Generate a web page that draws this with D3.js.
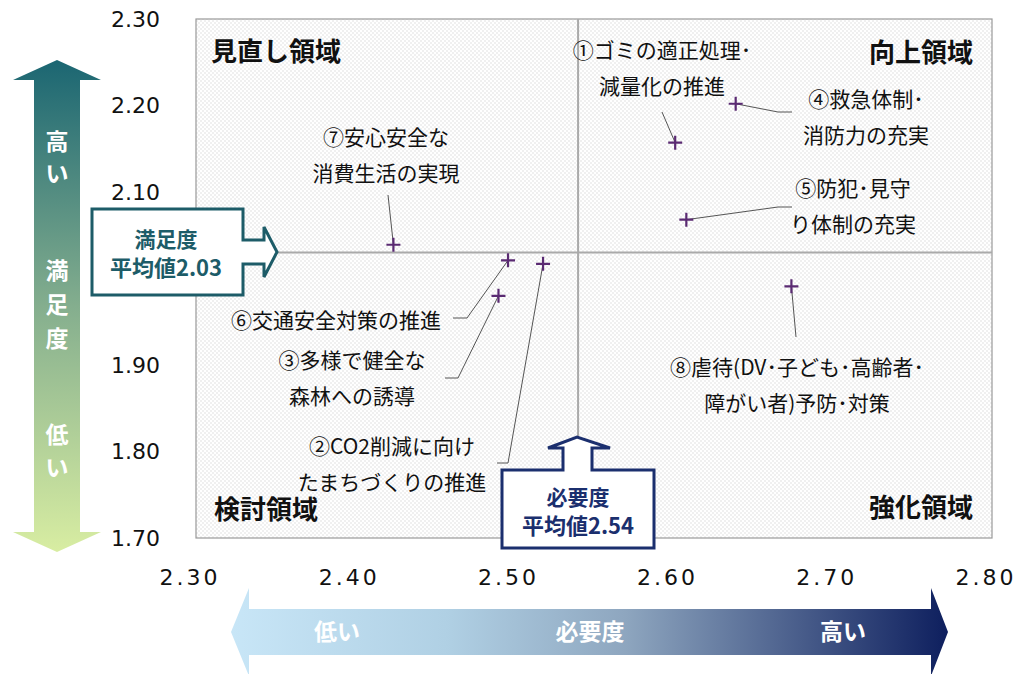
<!DOCTYPE html>
<meta charset="utf-8">
<style>
body { margin: 0; background: #fff; }
text { font-family: "Noto Sans CJK JP", "Noto Sans", sans-serif; }
.tick { font-family: "DejaVu Sans", sans-serif; font-size: 22px; fill: #111; }
.lbl { font-size: 21px; fill: #111; }
.quad { font-size: 26px; font-weight: bold; fill: #111; }
.lead { fill: none; stroke: #555; stroke-width: 1px; }
</style>
<body>
<script src="https://d3js.org/d3.v7.min.js"></script>
<script>

// data: necessity (x) and satisfaction (y) per item
var itemNo = [1, 2, 3, 4, 5, 6, 7, 8];
var necessity    = [2.601, 2.518, 2.490, 2.639, 2.608, 2.496, 2.424, 2.674];
var satisfaction = [2.157, 2.017, 1.980, 2.202, 2.068, 2.021, 2.039, 1.991];
var itemLines = [
  ["①ゴミの適正処理･", "減量化の推進"],
  ["②CO2削減に向け", "たまちづくりの推進"],
  ["③多様で健全な", "森林への誘導"],
  ["④救急体制･", "消防力の充実"],
  ["⑤防犯･見守", "り体制の充実"],
  ["⑥交通安全対策の推進"],
  ["⑦安心安全な", "消費生活の実現"],
  ["⑧虐待(DV･子ども･高齢者･", "障がい者)予防･対策"]
];
var xTicks = [2.30, 2.40, 2.50, 2.60, 2.70, 2.80];
// 2.00 sits under the satisfaction callout, so it is not shown
var yTicks = [2.30, 2.20, 2.10, 1.90, 1.80, 1.70];
var meanNeed = 2.54, meanSat = 2.03;
var quadNames = ["見直し領域", "向上領域", "検討領域", "強化領域"];

// layout of the labels (pixel anchors) and leader line bends
var labelAt = [[662, 50], [392, 446], [352, 360], [866, 99], [853, 188], [336, 320], [386, 137], [797, 367]];
var leadFrom = [
  [[662, 112]],
  [[497, 463], [508, 463]],
  [[445, 378], [458, 378]],
  [[792, 112], [778, 112]],
  [[792, 207], [778, 207]],
  [[453, 318], [467, 318]],
  [[388, 195]],
  [[796, 337]]
];

var W = 1016, H = 674;
var plot = {left: 196, right: 992, top: 19, bottom: 538};

var x = d3.scaleLinear().domain([2.30, 2.80]).range([plot.left, plot.right]);
var y = d3.scaleLinear().domain([1.70, 2.30]).range([plot.bottom, plot.top]);

var svg = d3.select("body").append("svg")
    .attr("width", W)
    .attr("height", H);

var defs = svg.append("defs");

// dotted texture of the plot
var pat = defs.append("pattern")
    .attr("id", "dots")
    .attr("width", 4).attr("height", 4)
    .attr("patternUnits", "userSpaceOnUse");
pat.append("rect").attr("width", 4).attr("height", 4).attr("fill", "#fff");
pat.append("circle").attr("cx", 1).attr("cy", 1).attr("r", 0.7).attr("fill", "#d6d6d6");
pat.append("circle").attr("cx", 3).attr("cy", 3).attr("r", 0.7).attr("fill", "#d6d6d6");

var gv = defs.append("linearGradient").attr("id", "gv")
    .attr("x1", 0).attr("y1", 0).attr("x2", 0).attr("y2", 1);
gv.append("stop").attr("offset", "0%").attr("stop-color", "#1b6672");
gv.append("stop").attr("offset", "50%").attr("stop-color", "#84ae8e");
gv.append("stop").attr("offset", "100%").attr("stop-color", "#d8eda2");

var gh = defs.append("linearGradient").attr("id", "gh")
    .attr("x1", 0).attr("y1", 0).attr("x2", 1).attr("y2", 0);
gh.append("stop").attr("offset", "0%").attr("stop-color", "#c8e6f7");
gh.append("stop").attr("offset", "30%").attr("stop-color", "#b0d0e4");
gh.append("stop").attr("offset", "55%").attr("stop-color", "#8ea6bf");
gh.append("stop").attr("offset", "100%").attr("stop-color", "#0e1f5e");

// plot area
svg.append("rect")
    .attr("x", plot.left).attr("y", plot.top)
    .attr("width", plot.right - plot.left)
    .attr("height", plot.bottom - plot.top)
    .attr("fill", "url(#dots)")
    .attr("stroke", "#999")
    .attr("stroke-width", 1.2);

// mean lines
svg.append("line")
    .attr("x1", x(meanNeed)).attr("x2", x(meanNeed))
    .attr("y1", plot.top).attr("y2", plot.bottom)
    .attr("stroke", "#aaa").attr("stroke-width", 2);
svg.append("line")
    .attr("x1", 276).attr("x2", plot.right)
    .attr("y1", y(meanSat)).attr("y2", y(meanSat))
    .attr("stroke", "#aaa").attr("stroke-width", 2);

// tick labels
svg.selectAll(".ytick").data(yTicks).enter().append("text")
    .attr("class", "tick")
    .attr("x", 160)
    .attr("y", function(d) { return y(d); })
    .attr("dy", "0.36em")
    .attr("text-anchor", "end")
    .text(function(d) { return d.toFixed(2); });

svg.selectAll(".xtick").data(xTicks).enter().append("text")
    .attr("class", "tick")
    .attr("x", function(d) { return x(d) - 6; })
    .attr("y", 577)
    .attr("dy", "0.36em")
    .attr("text-anchor", "middle")
    .style("letter-spacing", "3px")
    .text(function(d) { return d.toFixed(2); });

// quadrant names
svg.append("text").attr("class", "quad").attr("x", 211).attr("y", 61).text(quadNames[0]);
svg.append("text").attr("class", "quad").attr("x", 973).attr("y", 62).attr("text-anchor", "end").text(quadNames[1]);
svg.append("text").attr("class", "quad").attr("x", 214).attr("y", 519).text(quadNames[2]);
svg.append("text").attr("class", "quad").attr("x", 973).attr("y", 517).attr("text-anchor", "end").text(quadNames[3]);

// leader lines
var items = itemNo.map(function(n, i) {
  return {n: n, x: necessity[i], y: satisfaction[i], lines: itemLines[i]};
});

svg.selectAll(".lead").data(items).enter().append("path")
    .attr("class", "lead")
    .attr("d", function(d, i) {
      var pts = leadFrom[i].concat([[x(d.x), y(d.y)]]);
      return d3.line()(pts);
    });

// labels
items.forEach(function(d, i) {
  var t = svg.append("text")
      .attr("class", "lbl")
      .attr("text-anchor", "middle");
  d.lines.forEach(function(s, k) {
    t.append("tspan")
      .attr("x", labelAt[i][0])
      .attr("y", labelAt[i][1] + k * 36)
      .attr("dy", "0.36em")
      .text(s);
  });
});

// markers
var cross = svg.selectAll(".pt").data(items).enter().append("g")
    .attr("transform", function(d) { return "translate(" + x(d.x) + "," + y(d.y) + ")"; });
cross.append("path")
    .attr("d", "M-7,0H7M0,-7V7")
    .attr("stroke", "#5a2a72")
    .attr("stroke-width", 2.2);

// satisfaction mean callout
svg.append("path")
    .attr("d", "M92,209H243V240H264V227L277,252L264,277V264H243V295H92Z")
    .attr("fill", "#fff").attr("stroke", "#1d5c68").attr("stroke-width", 3)
    .attr("stroke-linejoin", "miter");
svg.append("text").attr("x", 166).attr("y", 239).attr("dy", "0.36em")
    .attr("text-anchor", "middle").attr("font-size", 21).attr("font-weight", "bold")
    .attr("fill", "#1d5c68").text("満足度");
svg.append("text").attr("x", 166).attr("y", 268).attr("dy", "0.36em")
    .attr("text-anchor", "middle").attr("font-size", 22).attr("font-weight", "bold")
    .attr("fill", "#1d5c68").text("平均値" + meanSat.toFixed(2));

// necessity mean callout
svg.append("path")
    .attr("d", "M502,548V470H563V448H548L577,437L610,448H592V470H654V548Z")
    .attr("fill", "#fff").attr("stroke", "#1b2f6e").attr("stroke-width", 3);
svg.append("text").attr("x", 578).attr("y", 497).attr("dy", "0.36em")
    .attr("text-anchor", "middle").attr("font-size", 21).attr("font-weight", "bold")
    .attr("fill", "#1b2f6e").text("必要度");
svg.append("text").attr("x", 578).attr("y", 526).attr("dy", "0.36em")
    .attr("text-anchor", "middle").attr("font-size", 22).attr("font-weight", "bold")
    .attr("fill", "#1b2f6e").text("平均値" + meanNeed.toFixed(2));

// vertical arrow (satisfaction)
svg.append("path")
    .attr("d", "M57,60L101,80H80V532H101L57,552L13,532H34V80H13Z")
    .attr("fill", "url(#gv)");
var vText = [["高", 142], ["い", 174], ["満", 271], ["足", 305], ["度", 339], ["低", 435], ["い", 468]];
svg.selectAll(".vt").data(vText).enter().append("text")
    .attr("x", 57)
    .attr("y", function(d) { return d[1]; })
    .attr("dy", "0.36em")
    .attr("text-anchor", "middle")
    .attr("font-size", 23).attr("font-weight", "bold")
    .attr("fill", "#fff")
    .text(function(d) { return d[0]; });

// horizontal arrow (necessity)
svg.append("path")
    .attr("d", "M231,632L249,588V609H931V588L948,632L931,676V655H249V676Z")
    .attr("fill", "url(#gh)");
var hText = [["低い", 337], ["必要度", 590], ["高い", 843]];
svg.selectAll(".ht").data(hText).enter().append("text")
    .attr("x", function(d) { return d[1]; })
    .attr("y", 632)
    .attr("dy", "0.36em")
    .attr("text-anchor", "middle")
    .attr("font-size", 23).attr("font-weight", "bold")
    .attr("fill", "#fff")
    .text(function(d) { return d[0]; });

</script>
</body>
